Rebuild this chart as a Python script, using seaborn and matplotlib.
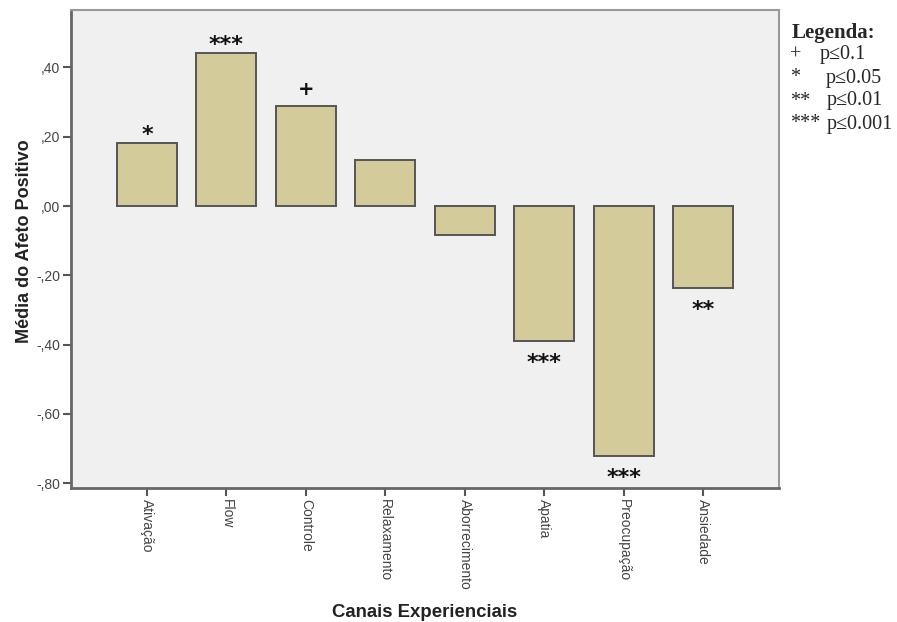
import matplotlib
matplotlib.use("Agg")
import matplotlib.pyplot as plt
import seaborn as sns

# Mean positive affect per experiential channel
categories = ["Ativação", "Flow", "Controle", "Relaxamento",
              "Aborrecimento", "Apatia", "Preocupação", "Ansiedade"]
means = [0.182, 0.442, 0.289, 0.133, -0.084, -0.389, -0.722, -0.238]
significance = ["*", "***", "+", "", "", "***", "***", "**"]

y_ticks = [-0.8, -0.6, -0.4, -0.2, 0.0, 0.2, 0.4]

legend_symbols = ["+", "*", "**", "***"]
legend_texts = ["p≤0.1", "p≤0.05", "p≤0.01", "p≤0.001"]

sns.set_style("white")
plt.rcParams["font.family"] = ["Liberation Sans", "DejaVu Sans"]

W, H = 897, 622
fig = plt.figure(figsize=(W / 100, H / 100), dpi=100)
ax = fig.add_axes([71 / W, 1 - 488 / H, 708 / W, 478 / H])
ax.set_facecolor("#F0F0F0")

sns.barplot(x=categories, y=means, color="#D3CC9A", saturation=1,
            width=0.756, edgecolor="#555555", linewidth=1.4, ax=ax)

ax.set_xlim(-0.957, 7.957)
ax.set_ylim(-0.814, 0.566)

ax.set_yticks(y_ticks)
ax.set_yticklabels([f"{v:.2f}".replace("0.", ",") for v in y_ticks],
                   fontsize=10, color="#444444")
ax.set_xticks(range(len(categories)))
ax.set_xticklabels(categories, rotation=270, fontsize=10, color="#444444",
                   va="top", ha="center")

ax.tick_params(axis="both", direction="out", length=6, width=1.5,
               color="#555555", left=True, bottom=True, pad=2)

for side in ["left", "bottom"]:
    ax.spines[side].set_color("#666666")
    ax.spines[side].set_linewidth(2)
for side in ["top", "right"]:
    ax.spines[side].set_color("#999999")
    ax.spines[side].set_linewidth(1.5)

ax.set_ylabel("Média do Afeto Positivo", fontsize=13, fontweight="bold",
              color="#222222")
ax.yaxis.set_label_coords(-0.054, 0.517)
ax.set_xlabel("Canais Experienciais", fontsize=13.4, fontweight="bold",
              color="#222222")
ax.xaxis.set_label_coords(0.5, -0.242)

# significance markers next to each bar end (baseline offsets in pixels)
for i, (v, s) in enumerate(zip(means, significance)):
    if not s:
        continue
    if s == "+":
        off = 11 if v > 0 else -25
        size = 14
    else:
        off = 2 if v > 0 else -28
        size = 16
    ax.annotate(s, xy=(i, v), xytext=(0, off), textcoords="offset pixels",
                ha="center", va="baseline", fontsize=size, fontweight="bold",
                family="DejaVu Sans", color="#111111")

# significance key
fig.text(792 / W, 1 - 33 / H, "Legenda:", family="Liberation Serif",
         fontsize=15, fontweight="bold", va="center", ha="left")
row_y = [55, 78, 101, 124]
text_x = [820, 826, 827, 827]
for k, (sym, txt) in enumerate(zip(legend_symbols, legend_texts)):
    y = 1 - row_y[k] / H
    fig.text(790 / W, y, sym, family="Liberation Serif", fontsize=14.5,
             va="center", ha="left")
    fig.text(text_x[k] / W, y, txt, family="Liberation Serif", fontsize=14.5,
             va="center", ha="left")

fig.savefig("out.png", dpi=100, facecolor="white")
